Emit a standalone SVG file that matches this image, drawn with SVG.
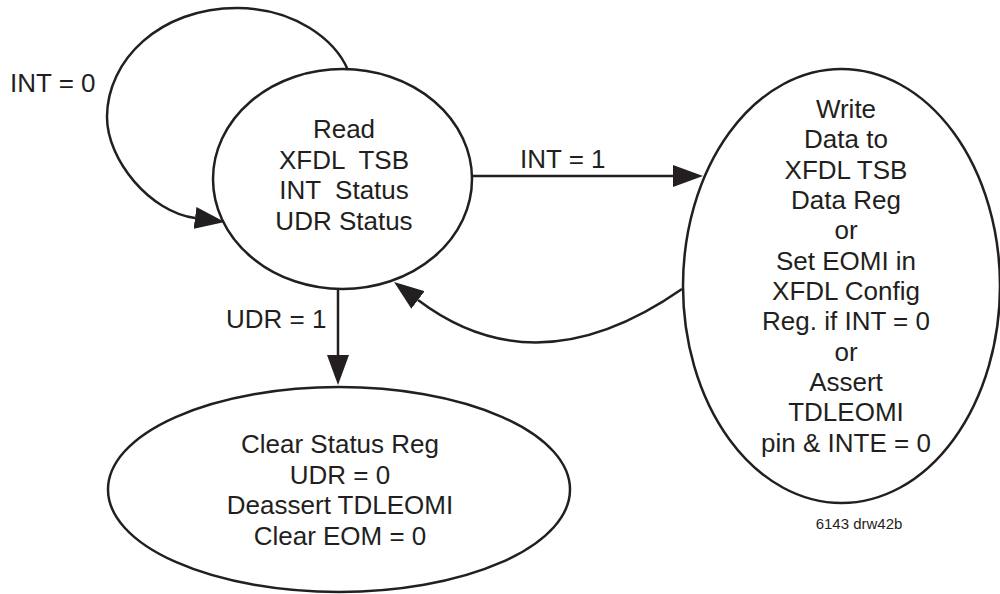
<svg xmlns="http://www.w3.org/2000/svg" width="1000" height="594" viewBox="0 0 1000 594">
<style>
.node{fill:none;stroke:#231f20;stroke-width:2.5}
.edge{fill:none;stroke:#231f20;stroke-width:2.5}
text{font-family:"Liberation Sans",Arial,Helvetica,sans-serif;font-size:26px;fill:#231f20;text-anchor:middle}
.lbl{text-anchor:start}
.small{font-size:15px}
</style>
<defs>
<marker id="arr" markerUnits="userSpaceOnUse" markerWidth="31" markerHeight="23" refX="0" refY="11" orient="auto" viewBox="0 0 31 22">
<path d="M0,0 L30,11 L0,22 z" fill="#231f20"/>
</marker>
</defs>
<rect width="1000" height="594" fill="#fff"/>
<g id="connectors">
<path class="edge" d="M 348 70 C 335 40, 295 8, 237 8 C 160 8, 107 60, 107 117 C 107 160, 150 212, 195 218" marker-end="url(#arr)"/>
<path class="edge" d="M 472 176 L 673 176" marker-end="url(#arr)"/>
<path class="edge" d="M 338 289 L 338 355" marker-end="url(#arr)"/>
<path class="edge" d="M 682 289 Q 537 390 418 300" marker-end="url(#arr)"/>
<text class="lbl" x="10" y="92">INT = 0</text>
<text class="lbl" x="520" y="168">INT = 1</text>
<text class="lbl" x="226" y="328">UDR = 1</text>
</g>
<g id="read">
<ellipse class="node" cx="342.5" cy="179" rx="129.5" ry="110"/>
<text x="344" y="138">Read</text>
<text x="344" y="169" xml:space="preserve">XFDL  TSB</text>
<text x="344" y="199" xml:space="preserve">INT  Status</text>
<text x="344" y="230">UDR Status</text>
</g>
<g id="write">
<ellipse class="node" cx="841.5" cy="286" rx="158.5" ry="217"/>
<text x="846" y="118">Write</text>
<text x="846" y="148">Data to</text>
<text x="846" y="179">XFDL TSB</text>
<text x="846" y="209">Data Reg</text>
<text x="846" y="239">or</text>
<text x="846" y="270">Set EOMI in</text>
<text x="846" y="300">XFDL Config</text>
<text x="846" y="330">Reg. if INT = 0</text>
<text x="846" y="361">or</text>
<text x="846" y="391">Assert</text>
<text x="846" y="421">TDLEOMI</text>
<text x="846" y="452">pin &amp; INTE = 0</text>
</g>
<g id="clear">
<ellipse class="node" cx="339" cy="489.5" rx="231" ry="102.5"/>
<text x="340" y="453">Clear Status Reg</text>
<text x="340" y="484">UDR = 0</text>
<text x="340" y="514">Deassert TDLEOMI</text>
<text x="340" y="545">Clear EOM = 0</text>
</g>
<text class="small" x="859" y="529">6143 drw42b</text>
</svg>
